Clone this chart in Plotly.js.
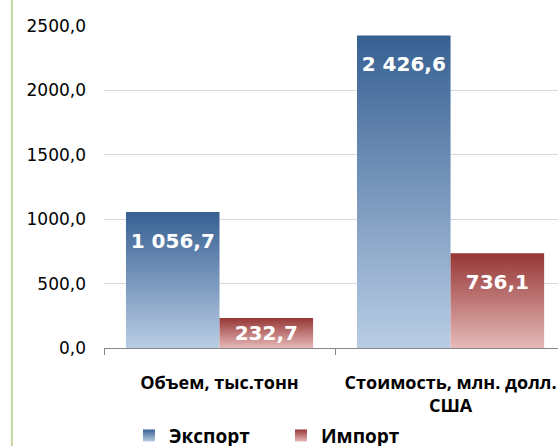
<!DOCTYPE html>
<html>
<head>
<meta charset="utf-8">
<script src="https://cdn.plot.ly/plotly-3.0.1.min.js"></script>
<style>html,body{margin:0;padding:0;background:#fff;overflow:hidden;}</style>
</head>
<body>
<div id="chart" style="width:558px;height:446px;"></div>
<script>
const categories = ['Объем, тыс.тонн', 'Стоимость, млн. долл.<br>США'];
const exportValues = [1056.7, 2426.6];
const importValues = [232.7, 736.1];
const seriesNames = ['Экспорт', 'Импорт'];
const yTicks = [0, 500, 1000, 1500, 2000, 2500];

const labelFont = {family: 'DejaVu Sans, sans-serif', size: 20, color: '#ffffff', weight: 700};

const traces = [
  {type: 'bar', name: seriesNames[0], x: categories, y: exportValues,
   marker: {color: '#6f8fbb', line: {width: 0}},
   texttemplate: '%{y:,.1f}', textposition: 'inside', insidetextanchor: 'end', textangle: 0,
   textfont: labelFont, constraintext: 'none', cliponaxis: false},
  {type: 'bar', name: seriesNames[1], x: categories, y: importValues,
   marker: {color: '#c07878', line: {width: 0}},
   texttemplate: '%{y:,.1f}', textposition: 'inside', insidetextanchor: 'end', textangle: 0,
   textfont: labelFont, constraintext: 'none', cliponaxis: false}
];

const layout = {
  width: 558, height: 446,
  margin: {l: 104, r: 0, t: 26, b: 98, autoexpand: false},
  paper_bgcolor: '#ffffff', plot_bgcolor: '#ffffff',
  separators: ', ',
  barmode: 'group', bargap: 0.19, bargroupgap: 0,
  showlegend: true,
  font: {family: 'DejaVu Sans, sans-serif', color: '#000000'},
  xaxis: {
    type: 'category', range: [-0.5, 1.465], fixedrange: true,
    showgrid: false, showline: true, linecolor: '#868686', linewidth: 1,
    ticks: 'outside', tickson: 'boundaries', ticklen: 6, tickcolor: '#868686',
    tickfont: {family: 'Open Sans, sans-serif', size: 18, weight: 700, color: '#000'},
    ticklabelstandoff: 18
  },
  yaxis: {
    range: [0, 2500], tickvals: yTicks, tickformat: '.1f',
    showgrid: true, gridcolor: '#d9d9d9', gridwidth: 1,
    zeroline: false, showline: false, ticks: '',
    tickfont: {family: 'DejaVu Sans, sans-serif', size: 17, color: '#000'},
    ticklabelstandoff: 17
  },
  legend: {
    orientation: 'h', x: 0.055, y: -0.272, xanchor: 'left', yanchor: 'middle',
    font: {family: 'Open Sans, sans-serif', size: 19, weight: 700, color: '#000'},
    entrywidth: 107, traceorder: 'normal', itemwidth: 30
  },
  shapes: [
    {type: 'line', xref: 'paper', yref: 'paper', x0: -0.203, x1: -0.203, y0: -0.4, y1: 1.2,
     line: {color: '#c3d69b', width: 2}}
  ]
};

Plotly.newPlot('chart', traces, layout, {staticPlot: true, displayModeBar: false}).then(function (gd) {
  const svg = gd.querySelector('svg.main-svg');
  const ns = 'http://www.w3.org/2000/svg';
  let defs = svg.querySelector('defs');
  function addGrad(id, top, bottom) {
    const g = document.createElementNS(ns, 'linearGradient');
    g.setAttribute('id', id);
    g.setAttribute('x1', '0'); g.setAttribute('y1', '0');
    g.setAttribute('x2', '0'); g.setAttribute('y2', '1');
    const s1 = document.createElementNS(ns, 'stop');
    s1.setAttribute('offset', '0'); s1.setAttribute('stop-color', top);
    const s2 = document.createElementNS(ns, 'stop');
    s2.setAttribute('offset', '1'); s2.setAttribute('stop-color', bottom);
    g.appendChild(s1); g.appendChild(s2); defs.appendChild(g);
  }
  addGrad('gradExp', '#376092', '#b9cde5');
  addGrad('gradImp', '#953735', '#e6b9b8');
  const ids = ['gradExp', 'gradImp'];
  gd.querySelectorAll('.barlayer .trace.bars').forEach(function (t, i) {
    t.querySelectorAll('.point').forEach(function (pt) {
      const p = pt.querySelector('path');
      p.style.fill = 'url(#' + ids[i] + ')';
      const tx = pt.querySelector('text');
      if (!tx) return;
      // Excel-style "inside end" label: a bit more padding below the bar top
      const pb = p.getBoundingClientRect();
      const tb = tx.getBoundingClientRect();
      const cur = tb.top + tb.height / 2;
      const target = Math.min(pb.top + 29, pb.top + pb.height / 2);
      const dy = target - cur;
      const g = document.createElementNS(ns, 'g');
      g.setAttribute('transform', 'translate(0,' + dy.toFixed(1) + ')');
      tx.parentNode.insertBefore(g, tx);
      g.appendChild(tx);
    });
  });
  gd.querySelectorAll('.legend .traces').forEach(function (t, i) {
    t.querySelectorAll('.legendpoints path').forEach(function (p) {
      p.style.fill = 'url(#' + ids[i] + ')';
    });
  });
});
</script>
</body>
</html>
